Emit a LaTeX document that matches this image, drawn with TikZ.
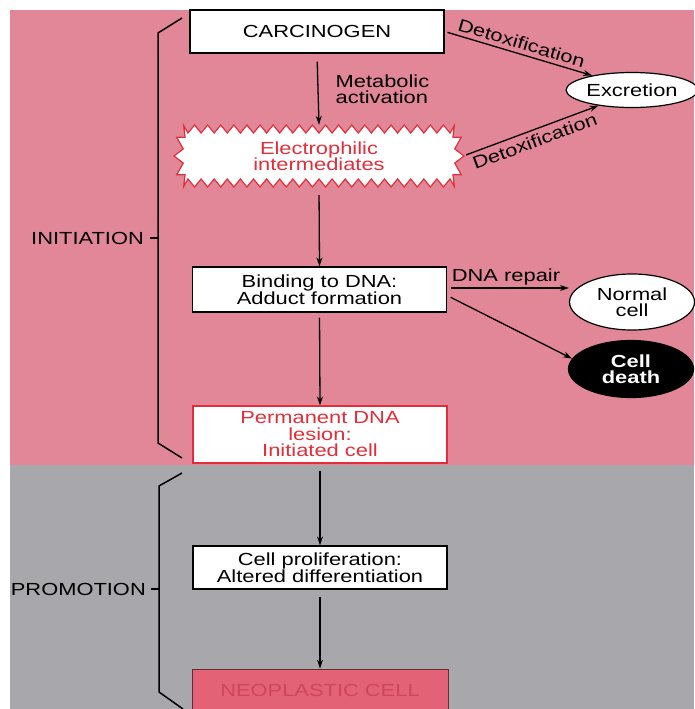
\documentclass[tikz,border=0pt]{standalone}
\usepackage{fontspec}
\setmainfont[FakeStretch=1.25]{Liberation Sans}
\usetikzlibrary{arrows.meta,shapes.geometric}
\definecolor{pinkbg}{RGB}{226,135,152}
\definecolor{graybg}{RGB}{168,168,172}
\definecolor{redtxt}{RGB}{226,46,58}
\definecolor{neofill}{RGB}{227,98,118}
\definecolor{neotxt}{RGB}{206,70,92}
\newcommand\fsz{\fontsize{17.5pt}{16.5pt}\selectfont}
\tikzset{
  every node/.style={font=\fsz, align=center},
  box/.style={draw=black, fill=white, line width=1.2pt, rectangle, minimum width=254pt, inner sep=2pt},
  redbox/.style={box, draw=redtxt, text=redtxt},
  oval/.style={ellipse, draw=black, fill=white, line width=1.2pt, minimum width=125pt, inner sep=1pt},
  arr/.style={-{Stealth[length=9pt,width=6pt]}, line width=1.3pt},
  brk/.style={line width=1.5pt, black},
  lbl/.style={font=\fsz, inner sep=2pt},
  burst/.style={draw=redtxt, fill=white, line width=1.2pt, line join=miter}
}
\begin{document}
\begin{tikzpicture}[x=1pt,y=-1pt]
\useasboundingbox (0,0) rectangle (694,709);
\fill[white] (0,0) rectangle (694,709);
\fill[pinkbg] (10,10) rectangle (694,465);
\fill[graybg] (10,465) rectangle (694,709);

% starburst outline behind the electrophilic node
\draw[burst] (188,133)
  \foreach \k [evaluate=\k as \yy using {133-8*mod(\k,2)}] in {1,...,40} { -- ({188+6.55*\k},\yy) }
  \foreach \j [evaluate=\j as \ang using {90-18*\j}, evaluate=\j as \rr using {mod(\j,2)}] in {1,...,10}
     { -- ({450+(5+9*\rr)*cos(\ang)},{156-(23+9*\rr)*sin(\ang)}) }
  \foreach \k [evaluate=\k as \yy using {179+8*mod(\k,2)}] in {1,...,40} { -- ({450-6.55*\k},\yy) }
  \foreach \j [evaluate=\j as \ang using {-90+18*\j}, evaluate=\j as \rr using {mod(\j,2)}] in {1,...,10}
     { -- ({188-(5+9*\rr)*cos(\ang)},{156-(23+9*\rr)*sin(\ang)}) }
  -- cycle;

% main column
\node[box, minimum height=43pt] (carc) at (317,31.5) {CARCINOGEN};
\node[rectangle, text=redtxt, minimum width=288pt, minimum height=62pt, inner sep=0pt] (elec) at (319,156)
      {Electrophilic\\intermediates};
\node[box, minimum height=45pt] (bind) at (319.5,289.5) {Binding to DNA:\\Adduct formation};
\node[redbox, minimum height=57pt] (lesion) at (320,434.5) {Permanent DNA\\lesion:\\Initiated cell};
\node[box, minimum height=43pt] (prolif) at (320,567.5) {Cell proliferation:\\Altered differentiation};
\node[rectangle, draw=black!55!neofill, fill=neofill, line width=0.8pt, minimum width=256pt, minimum height=42pt, text=neotxt] (neo) at (320,690) {NEOPLASTIC CELL};

% side ovals
\node[oval, minimum height=35pt] (exc) at (632,90) {Excretion};
\node[oval, minimum height=56pt] (normal) at (632,302) {Normal\\cell};
\node[oval, fill=black, text=white, minimum height=57pt, font=\fsz\bfseries] (death) at (631,369) {Cell\\death};

% vertical arrows
\draw[arr, shorten <=8pt] (carc.south) -- node[right=15pt, align=left, lbl] {Metabolic\\activation} (elec.north);
\draw[arr, shorten <=8pt] (elec.south) -- (bind.north);
\draw[arr, shorten <=5pt] (bind.south) -- (lesion.north);
\draw[arr, shorten <=7pt] (lesion.south) -- (prolif.north);
\draw[arr, shorten <=7pt] (prolif.south) -- (neo.north);

% side arrows
\draw[arr, shorten <=3pt] (carc.east) -- node[sloped, above=2pt, lbl] {Detoxification} (exc.160);
\draw[arr, shorten <=3pt] (elec.east) -- node[sloped, below=2pt, lbl] {Detoxification} (exc.205);
\coordinate (bs) at ([yshift=1.5pt]bind.east);
\draw[arr, shorten <=4pt] (bs) -- node[above, lbl, xshift=-2pt] {DNA repair} (bs -| normal.west);
\draw[arr, shorten <=4pt] ([yshift=-6pt]bind.east) -- (death.170);

% brackets
\draw[brk] (182,18) -- (158,33) -- (158,443) -- (182,458);
\draw[brk] (150,238) -- (158,238);
\node[lbl, anchor=east] (init) at (146,238) {INITIATION};
\draw[brk] (182,473) -- (159,486) -- (159,692) -- (183,709);
\draw[brk] (151,589) -- (159,589);
\node[lbl, anchor=east] (prom) at (148,589) {PROMOTION};
\end{tikzpicture}
\end{document}
